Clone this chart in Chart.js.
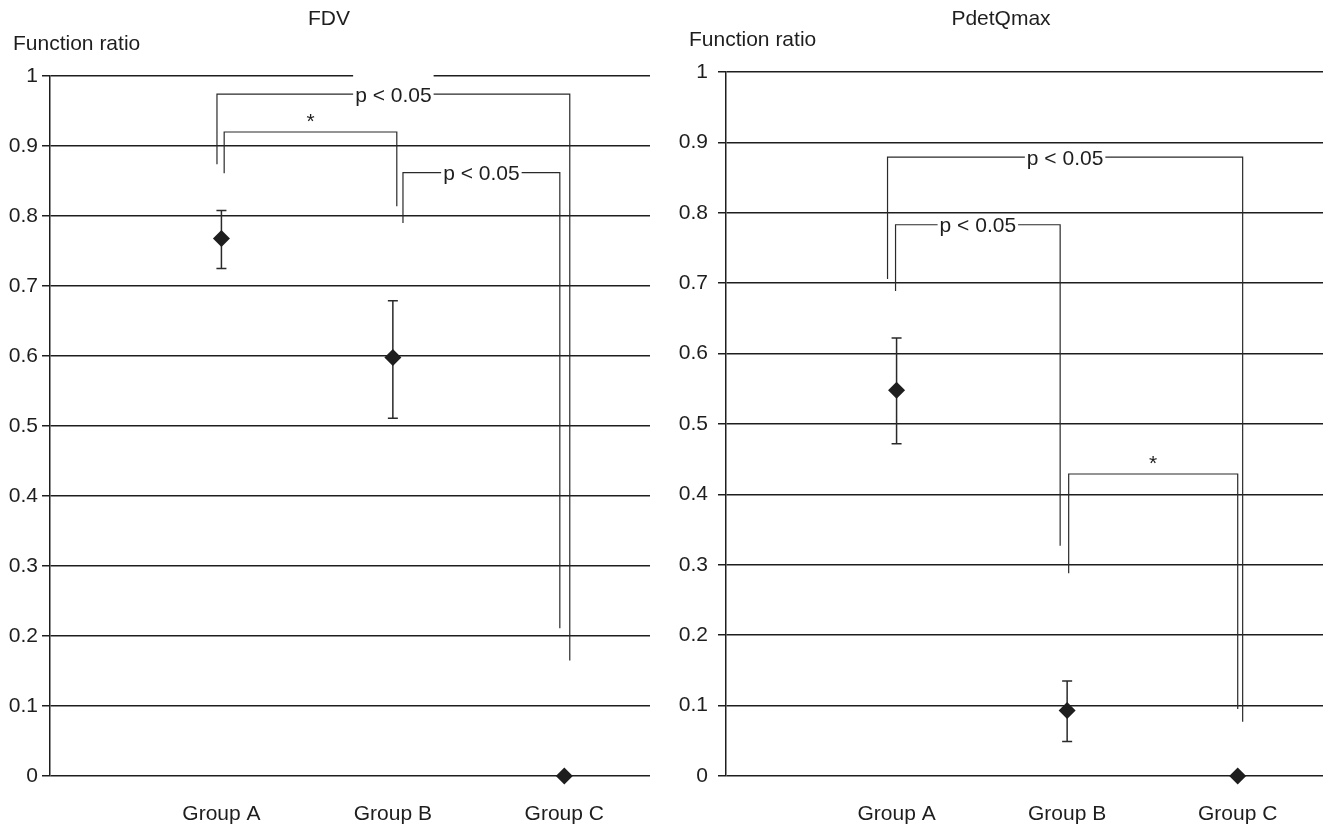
<!DOCTYPE html>
<html>
<head>
<meta charset="utf-8">
<script src="https://cdn.jsdelivr.net/npm/chart.js@4.4.1/dist/chart.umd.min.js"></script>
<style>
  html, body { margin: 0; padding: 0; background: #fff; overflow: hidden; }
  #wrap { position: relative; width: 1323px; height: 828px; }
  .pane { position: absolute; top: 0; width: 661px; height: 828px; }
  .pane canvas { display: block; }
  #left { left: 0; }
  #right { left: 662px; }
</style>
</head>
<body>
<div id="wrap">
  <div class="pane" id="left"><canvas id="fdvChart" width="661" height="828"></canvas></div>
  <div class="pane" id="right"><canvas id="pdetChart" width="661" height="828"></canvas></div>
</div>
<script>
// Datos
const groups = ["Group A", "Group B", "Group C"];
const groupPos = [1, 2, 3];
const yLabel = "Function ratio";

const fdvMean = [0.768, 0.598, 0];
const fdvUpper = [0.808, 0.679, 0];
const fdvLower = [0.725, 0.511, 0];

const pdetMean = [0.548, 0.093, 0];
const pdetUpper = [0.622, 0.135, 0];
const pdetLower = [0.472, 0.049, 0];

// corchetes: [x izq, x der, y arriba, y final izq, y final der, texto]
const fdvBrackets = [
  [0.974, 3.032, 0.974, 0.874, 0.165, "p < 0.05"],
  [1.016, 2.023, 0.920, 0.861, 0.814, "*"],
  [2.059, 2.974, 0.862, 0.790, 0.211, "p < 0.05"],
];
const pdetBrackets = [
  [0.947, 3.029, 0.879, 0.706, 0.077, "p < 0.05"],
  [0.994, 1.959, 0.783, 0.689, 0.327, "p < 0.05"],
  [2.009, 3.0, 0.429, 0.288, 0.095, "*"],
];

const FONT = "'Liberation Sans', Arial, sans-serif";
const FSIZE = 21;
const INK = "#1e1e1e";

// Barras de error (debajo de los marcadores)
const errorBars = {
  id: "errorBars",
  beforeDatasetsDraw(chart, args, opts) {
    const { ctx, scales } = chart;
    ctx.save();
    ctx.strokeStyle = "#2a2a2a";
    ctx.lineWidth = 1.5;
    opts.upper.forEach((u, i) => {
      const l = opts.lower[i];
      if (u === l) return;
      const x = scales.x.getPixelForValue(groupPos[i]);
      const yu = scales.y.getPixelForValue(u);
      const yl = scales.y.getPixelForValue(l);
      ctx.beginPath();
      ctx.moveTo(x, yu); ctx.lineTo(x, yl);
      ctx.moveTo(x - 5, yu); ctx.lineTo(x + 5, yu);
      ctx.moveTo(x - 5, yl); ctx.lineTo(x + 5, yl);
      ctx.stroke();
    });
    ctx.restore();
  },
};

// Corchetes de significación
const brackets = {
  id: "brackets",
  afterDatasetsDraw(chart, args, opts) {
    const { ctx, scales } = chart;
    ctx.save();
    ctx.font = FSIZE + "px " + FONT;
    ctx.textAlign = "center";
    ctx.textBaseline = "alphabetic";
    opts.items.forEach((b, i) => {
      const [x1, x2, yt, yl, yr, label] = b;
      const px1 = scales.x.getPixelForValue(x1);
      const px2 = scales.x.getPixelForValue(x2);
      const pyt = scales.y.getPixelForValue(yt);
      ctx.strokeStyle = "#2a2a2a";
      ctx.lineWidth = 1.2;
      ctx.beginPath();
      ctx.moveTo(px1, scales.y.getPixelForValue(yl));
      ctx.lineTo(px1, pyt);
      ctx.lineTo(px2, pyt);
      ctx.lineTo(px2, scales.y.getPixelForValue(yr));
      ctx.stroke();
      const cx = (px1 + px2) / 2;
      if (label === "*") {
        ctx.fillStyle = INK;
        ctx.fillText(label, cx, pyt - 4);
      } else {
        const w = ctx.measureText(label).width;
        const up = opts.padTop[i];
        ctx.fillStyle = "#fff";
        ctx.fillRect(cx - w / 2 - 2, pyt - up, w + 4, up + 10);
        ctx.fillStyle = INK;
        ctx.fillText(label, cx, pyt + 7.5);
      }
    });
    ctx.restore();
  },
};

// Rótulo "Function ratio" encima del eje
const axisCaption = {
  id: "axisCaption",
  afterDraw(chart) {
    const { ctx, chartArea } = chart;
    ctx.save();
    ctx.font = FSIZE + "px " + FONT;
    ctx.fillStyle = INK;
    ctx.textAlign = "left";
    ctx.textBaseline = "middle";
    ctx.fillText(yLabel, chartArea.left - 37, chartArea.top - 32);
    ctx.restore();
  },
};

function makeChart(id, title, mean, upper, lower, items, pad, yWidth, tickPad, titleGap, padTop) {
  const ctx = document.getElementById(id).getContext("2d");
  return new Chart(ctx, {
    type: "scatter",
    data: {
      datasets: [
        {
          data: mean.map((v, i) => ({ x: groupPos[i], y: v })),
          pointStyle: "rectRot",
          pointRadius: 8.5,
          pointHoverRadius: 8.5,
          backgroundColor: INK,
          borderWidth: 0,
          clip: false,
        },
      ],
    },
    options: {
      responsive: false,
      animation: false,
      layout: { padding: pad, autoPadding: false },
      plugins: {
        legend: { display: false },
        tooltip: { enabled: false },
        title: {
          display: true,
          text: title,
          color: INK,
          font: { family: FONT, size: FSIZE, weight: "normal", lineHeight: 1 },
          padding: { top: 9, bottom: titleGap },
        },
        errorBars: { upper, lower },
        brackets: { items, padTop },
      },
      scales: {
        x: {
          type: "linear",
          min: 0,
          max: 3.5,
          grid: { display: false },
          border: { display: false },
          afterBuildTicks(scale) {
            scale.ticks = groupPos.map((v) => ({ value: v }));
          },
          afterFit(scale) {
            scale.height = 52;
          },
          ticks: {
            padding: 18,
            color: INK,
            font: { family: FONT, size: FSIZE },
            callback: (v) => groups[groupPos.indexOf(v)],
          },
        },
        y: {
          min: 0,
          max: 1,
          grid: { color: INK, lineWidth: 1.5, tickLength: 8 },
          border: { color: INK, width: 1.5 },
          afterFit(scale) {
            scale.width = yWidth;
          },
          ticks: {
            stepSize: 0.1,
            padding: tickPad,
            color: INK,
            font: { family: FONT, size: FSIZE },
            callback: (v) => String(Number(v.toFixed(1))),
          },
        },
      },
    },
    plugins: [errorBars, brackets, axisCaption],
  });
}

makeChart("fdvChart", "FDV", fdvMean, fdvUpper, fdvLower, fdvBrackets,
  { left: 8, right: 11, top: 0, bottom: 0 }, 42, 4, 46, [20, 10, 10]);
makeChart("pdetChart", "PdetQmax", pdetMean, pdetUpper, pdetLower, pdetBrackets,
  { left: 17, right: 0, top: 0, bottom: 0 }, 47, 10, 42, [10, 10, 10]);
</script>
</body>
</html>
